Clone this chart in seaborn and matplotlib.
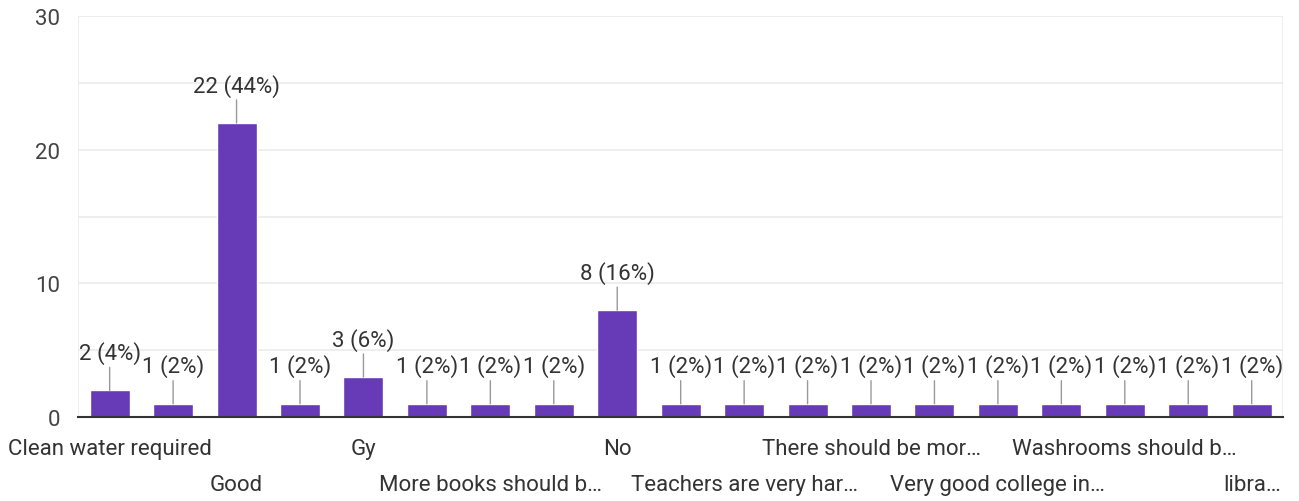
# Survey responses bar chart (Google Forms style)

import pandas as pd
import numpy as np
import matplotlib.pyplot as plt
import seaborn as sns


# -------------------------------
# Data
# -------------------------------

responses = [
    "Clean water required", "Response 2", "Good", "Response 4", "Gy",
    "Response 6", "More books should b…", "Response 8", "No", "Response 10",
    "Teachers are very har…", "Response 12", "There should be mor…", "Response 14",
    "Very good college in…", "Response 16", "Washrooms should b…", "Response 18",
    "libra…",
]

counts = [2, 1, 22, 1, 3, 1, 1, 1, 8, 1, 1, 1, 1, 1, 1, 1, 1, 1, 1]

# labels under the axis: even bars only, alternating two rows
row1_idx = [0, 4, 8, 12, 16]
row2_idx = [2, 6, 10, 14, 18]

y_ticks = [0, 10, 20, 30]


df = pd.DataFrame({"response": responses, "count": counts})
total = df["count"].sum()


# -------------------------------
# Plot
# -------------------------------

sns.set_style("white")
plt.rcParams["font.family"] = ["Roboto", "DejaVu Sans"]

fig = plt.figure(figsize=(12.99, 5.02), dpi=100)
ax = fig.add_axes([0.060, 0.167, 0.928, 0.799])

sns.barplot(
    data=df,
    x="response",
    y="count",
    color="#673ab7",
    saturation=1,
    width=0.63,
    ax=ax,
    zorder=3
)

ax.set_ylim(0, 30)
ax.set_xlim(-0.5, len(responses) - 0.5)

# grid lines every 5
for g in range(5, 31, 5):
    ax.axhline(g, color="#ebebeb", lw=1.2, zorder=0)
ax.axvline(-0.5, color="#ebebeb", lw=1.2, zorder=0)
ax.axvline(len(responses) - 0.5, color="#ebebeb", lw=1.2, zorder=0)

for s in ["top", "left", "right"]:
    ax.spines[s].set_visible(False)
ax.spines["bottom"].set_color("#333333")
ax.spines["bottom"].set_linewidth(1.5)
ax.spines["bottom"].set_zorder(4)

fs = 16

ax.set_yticks(y_ticks)
ax.set_yticklabels([str(t) for t in y_ticks])
ax.tick_params(axis="y", length=0, pad=13, labelsize=fs, labelcolor="#444444")

ax.set_xticks(row1_idx)
ax.set_xticklabels([responses[i] for i in row1_idx])
ax.set_xticks(row2_idx, minor=True)
ax.set_xticklabels([responses[i] for i in row2_idx], minor=True)
ax.tick_params(axis="x", which="major", length=0, pad=15, labelsize=fs, labelcolor="#333333")
ax.tick_params(axis="x", which="minor", length=0, pad=41, labelsize=fs, labelcolor="#333333")

ax.set_xlabel("")
ax.set_ylabel("")


# value labels with leader lines
for i, v in enumerate(counts):
    pct = round(100 * v / total)
    ax.annotate(
        f"{v} ({pct}%)",
        xy=(i, v),
        xytext=(0, 19),
        textcoords="offset points",
        ha="center",
        va="bottom",
        fontsize=fs,
        color="#333333",
        arrowprops=dict(arrowstyle="-", color="#999999", lw=1, shrinkA=0, shrinkB=0),
        zorder=5
    )


plt.savefig("out.png", dpi=100)
